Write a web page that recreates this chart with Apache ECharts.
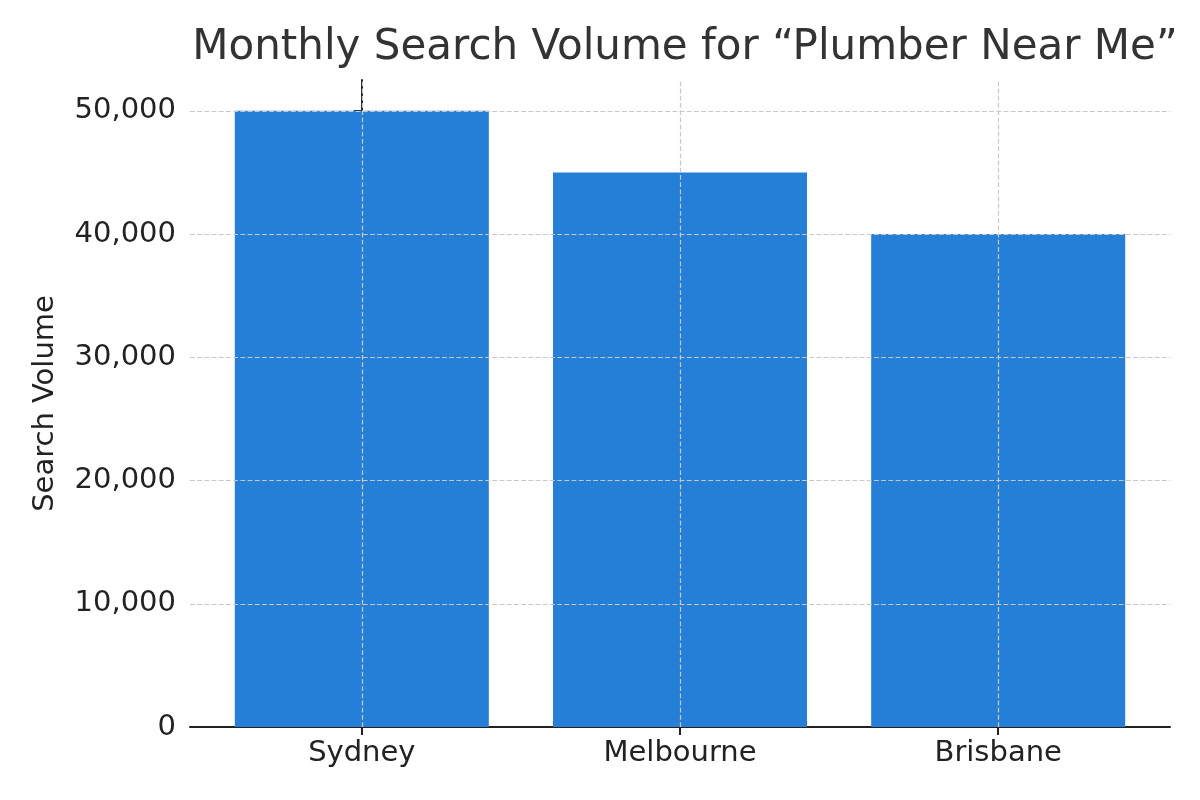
<!DOCTYPE html>
<html><head><meta charset="utf-8">
<script src="https://cdn.jsdelivr.net/npm/echarts@6/dist/echarts.min.js"></script>
<style>html,body{margin:0;padding:0;background:#fff}#c{width:1200px;height:800px}</style>
</head><body><div id="c"></div>
<script>
const categories = ['Sydney', 'Melbourne', 'Brisbane'];
const values = [50000, 45000, 40000];
const yTicks = [0, 10000, 20000, 30000, 40000, 50000];

const chart = echarts.init(document.getElementById('c'));
const F = 'DejaVu Sans';
const grid = {type:'dashed', color:'#c8c8c8', width:1.2};
chart.setOption({
  animation:false,
  title:{text:'Monthly Search Volume for “Plumber Near Me”', left:680, top:22, textAlign:'center',
    textStyle:{fontFamily:F, fontSize:42, fontWeight:'normal', color:'#333'}},
  grid:{left:190, right:30, top:80, bottom:73},
  xAxis:{type:'value', min:-0.54, max:2.54,
    axisLine:{lineStyle:{color:'#222', width:2}},
    axisTick:{customValues:[0,1,2], length:8, lineStyle:{color:'#222', width:2}},
    axisLabel:{customValues:[0,1,2], formatter:v=>categories[Math.round(v)], fontFamily:F, fontSize:29, color:'#222', margin:12},
    splitLine:{show:false}},
  yAxis:{type:'value', min:0, max:52500, name:'Search Volume', nameLocation:'middle', nameGap:130,
    nameTextStyle:{fontFamily:F, fontSize:29, color:'#222'},
    axisLine:{show:true, lineStyle:{color:'#222', width:2}},
    axisTick:{show:true, customValues:yTicks, length:8, lineStyle:{color:'#222', width:2}},
    axisLabel:{customValues:yTicks, fontFamily:F, fontSize:29, color:'#222', margin:14},
    splitLine:{show:false}},
  series:[{type:'bar', barWidth:254, itemStyle:{color:'#267fd6'},
    data:values.map((v,i)=>[i,v]),
    markLine:{silent:true, symbol:'none', label:{show:false}, lineStyle:grid, z:5,
      data:[...yTicks.slice(1).map(v=>({yAxis:v})), ...categories.map((c,i)=>({xAxis:i}))]}}]
});
</script></body></html>
